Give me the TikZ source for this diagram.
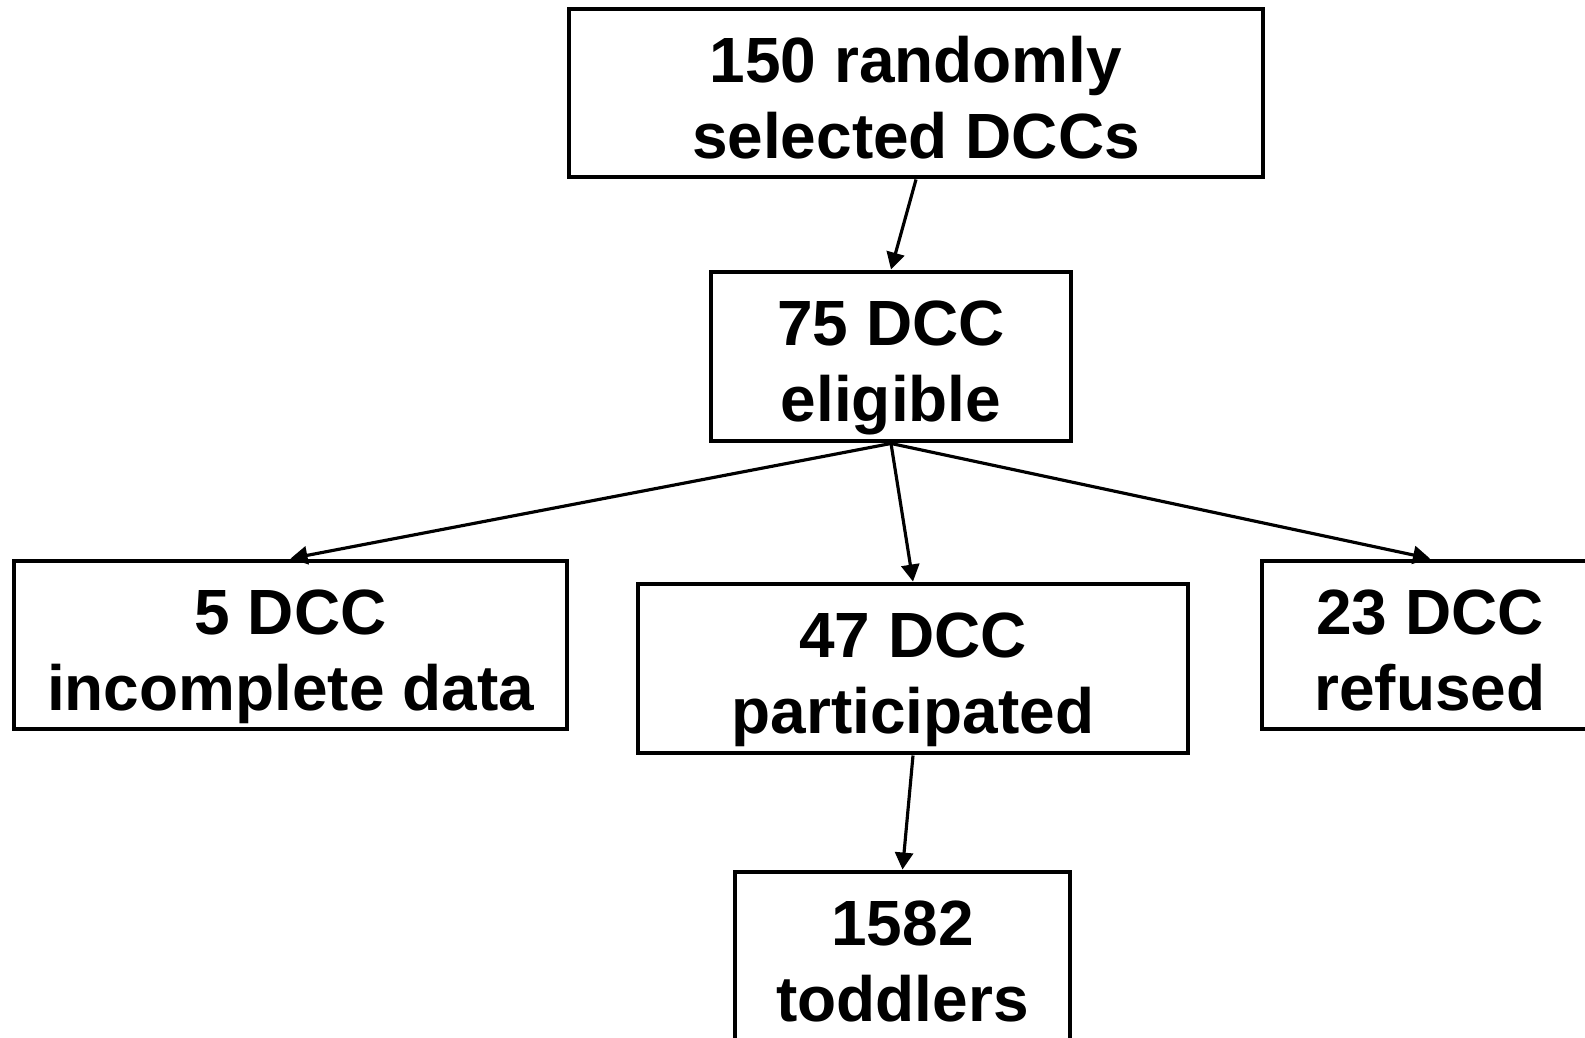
\documentclass[tikz,border=0pt]{standalone}
\usepackage{fontspec}
\setmainfont{Liberation Sans}
\usetikzlibrary{positioning}
\usetikzlibrary{arrows.meta}
\def\thickness{1.8pt}
\tikzset{
dccbox/.style 2 args={
	draw, line width=2.8pt, align=center,
	font=\fontsize{36.4}{43.2}\selectfont\bfseries,
	text height=2.8cm, text depth=0.2cm,
	minimum width=#1, minimum height=#2, inner sep=0pt
},
flow/.style={
	line width=\thickness, -{Triangle[length=0.34cm,width=0.36cm]}
},
}

\begin{document}
\begin{tikzpicture}
\useasboundingbox (0,0) rectangle (31.7,-20.74);
%Place the nodes
\node[dccbox={13.88cm}{3.36cm}] (sel) at (18.32,-1.86) {150 randomly\\selected DCCs};
\node[dccbox={7.2cm}{3.38cm}] (elig) at (17.82,-7.13) {75 DCC\\eligible};
\node[dccbox={11.06cm}{3.36cm}] (inc) at (5.81,-12.9) {5 DCC\\incomplete data};
\node[dccbox={11cm}{3.38cm}] (part) at (18.26,-13.37) {47 DCC\\participated};
\node[dccbox={6.72cm}{3.36cm}] (ref) at (28.6,-12.9) {23 DCC\\refused};
\node[dccbox={6.7cm}{3.38cm}] (tod) at (18.05,-19.13) {1582\\toddlers};

%Connect them
\draw[flow] (sel.south) -- (elig.north);
\foreach \t in {inc, part, ref} {
	\draw[flow] (elig.south) -- (\t.north);
}
\draw[flow] (part.south) -- (tod.north);
\end{tikzpicture}
\end{document}
